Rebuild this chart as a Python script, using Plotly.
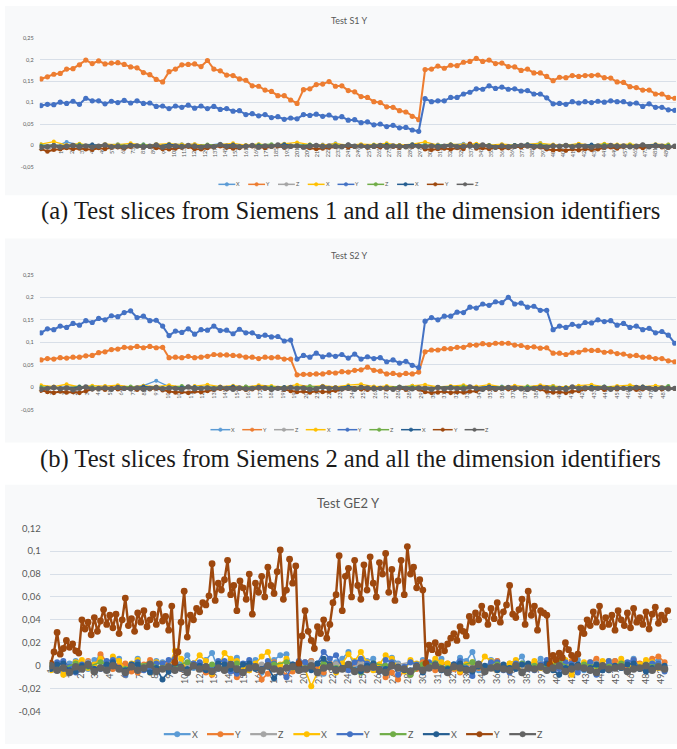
import plotly.graph_objects as go

W, H = 677, 749


def px(x):
    return x / W


def py(y):
    return 1 - y / H


SCALE = 0.001  # all series below are typed in thousandths

SERIES_NAMES = ["X", "Y", "Z", "X", "Y", "Z", "X", "Y", "Z"]
COLORS = ["#5B9BD5", "#ED7D31", "#A5A5A5", "#FFC000", "#4472C4",
          "#70AD47", "#255E91", "#9E480E", "#636363"]

# ---------------- Chart (a): Test S1 Y  (main series sampled every 5 slices) ----------
s1_y_orange = [155, 160, 166, 168, 178, 179, 188, 199, 191, 197,
               190, 192, 193, 189, 183, 181, 170, 165, 154, 148,
               172, 178, 188, 189, 190, 184, 198, 178, 174, 164,
               163, 155, 152, 139, 138, 129, 126, 116, 116, 106,
               98, 130, 132, 142, 143, 149, 138, 139, 128, 125,
               114, 112, 102, 100, 90, 89, 81, 78, 68, 60,
               177, 178, 185, 180, 187, 186, 194, 196, 203, 196,
               199, 191, 192, 184, 183, 175, 178, 169, 169, 161,
               151, 159, 158, 163, 161, 163, 163, 164, 158, 157,
               148, 147, 137, 135, 129, 129, 120, 120, 112, 110]
s1_y_blue = [93, 96, 95, 101, 98, 103, 96, 110, 104, 104,
             97, 103, 100, 105, 99, 104, 98, 99, 91, 92,
             86, 92, 89, 94, 87, 92, 86, 91, 84, 86,
             80, 81, 72, 74, 69, 72, 65, 67, 61, 64,
             62, 72, 70, 73, 68, 71, 64, 67, 59, 60,
             53, 55, 48, 50, 44, 47, 41, 42, 36, 33,
             109, 102, 104, 104, 112, 112, 120, 124, 132, 131,
             139, 133, 136, 131, 132, 127, 128, 120, 120, 111,
             97, 98, 96, 102, 99, 102, 100, 103, 101, 104,
             102, 102, 97, 99, 91, 97, 89, 89, 83, 82]
# near-zero series (sampled every 10 slices)
s1_x_lblue = [2, -3, 8, 1, -2, 0, 3, -1, 2, -4, 1, 3, -2, 0, 4, -1, -3, 2, 1, -2, 3, 0, -1, 5, -2,
              1, -3, 2, 0, -1, 3, -2, 1, 4, -1, 0, 2, -3, 1, 6, -2, 0, 3, -1, 2, -2, 1, 0, -3, 2]
s1_z_grey = [-1, 2, -2, 0, 3, -1, 1, -3, 2, 0, -2, 1, 3, -1, 0, 2, -2, 1, -1, 3, 0, -2, 2, -1, 1,
             0, -3, 2, 1, -1, 0, 2, -2, 1, 3, -1, 0, -2, 2, 1, -1, 0, 3, -2, 1, 0, -1, 2, -2, 1]
s1_x_yellow = [3, 9, 1, 4, -1, 3, 2, 5, 1, 3, 4, 2, 3, 0, 2, 5, 1, 3, 1, 4, 7, 2, 1, 4, 1,
               3, 2, 5, 1, 3, 8, 1, 3, 2, 4, 1, 3, 1, 3, 5, 2, 1, 4, 1, 4, 2, 3, 1, 3, 2]
s1_z_green = [0, 1, -1, 2, 0, -2, 1, 0, 2, -1, 1, 0, -1, 2, 1, -2, 0, 1, 3, -1, 0, 2, -1, 1, 0,
              -2, 1, 2, 0, -1, 1, 0, 2, -1, 0, 1, -2, 1, 0, 2, -1, 1, 0, -1, 2, 0, 1, -1, 0, 1]
s1_x_dblue = [-2, 1, -3, 0, 2, -1, -4, 1, 0, -2, 3, -1, 0, -3, 1, 2, -2, 0, -1, 3, -2, 1, 0, -3, 2,
              -1, 0, 1, -2, 3, -1, 0, 2, -3, 1, 0, -2, 1, 3, -1, 0, -2, 1, 2, -1, 0, -3, 1, 2, -1]
# sampled every 5 slices
s1_y_brown = [-8, -14, -10, -9, -6, -8, -7, -9, -10, -6, -8, -5, -4, -7, -3, -2, -4, -3, -6, -8,
              -9, -7, -5, -3, -8, -9, -6, -4, -2, -5, -7, -6, -3, -2, -4, -6, -3, -2, -5, -3,
              -2, -4, -6, -8, -7, -5, -3, -2, -4, -3, -2, -5, -3, -4, -2, -3, -5, -2, -3, -1,
              -9, -10, -8, -7, -9, -6, -8, 4, -7, -6, -8, -5, -7, -6, -3, -4, -2, -5, -4, -9,
              -11, -10, -12, -9, -11, -8, -10, -9, -5, -4, -7, -3, -2, -4, -6, -3, -2, -4, -5, -3]
s1_z_dgrey = [-5, -3, -1, -4, -2, 0, -3, -1, -4, -2, 1, -3, -2, -4, 0, -1, -3, -2, 1, -4,
              -2, -1, -3, 0, -2, -4, -1, -3, 2, -2, -1, -3, -2, 0, -4, -1, -2, 1, -3, -2,
              -1, -4, -2, 0, -3, -1, -2, -3, 1, -2, -1, -3, -2, 0, -4, -1, -2, -3, -1, -2,
              -3, -1, -4, -2, 0, -3, -2, -1, -3, 1, -2, -4, -1, -3, -2, 0, -1, -3, -2, -4,
              -1, -2, 0, -3, -1, -2, -4, -1, -3, 0, -2, -1, -3, -2, 1, -3, -1, -2, -4, -2]

# ---------------- Chart (b): Test S2 Y ----------------
s2_y_orange = [61, 64, 63, 66, 65, 67, 67, 70, 71, 77,
               79, 84, 85, 89, 88, 91, 88, 91, 88, 89,
               66, 67, 66, 69, 66, 67, 69, 73, 72, 72,
               71, 70, 67, 67, 64, 67, 66, 67, 63, 63,
               28, 29, 29, 30, 30, 33, 32, 35, 34, 38,
               39, 45, 38, 36, 30, 31, 28, 31, 30, 34,
               79, 83, 83, 86, 86, 89, 89, 94, 94, 97,
               95, 98, 98, 98, 94, 93, 89, 90, 87, 88,
               76, 76, 73, 77, 78, 83, 82, 82, 78, 79,
               75, 74, 70, 71, 67, 67, 64, 64, 59, 57]
s2_y_blue = [121, 130, 128, 136, 133, 142, 138, 148, 144, 153,
             150, 159, 157, 166, 170, 155, 158, 148, 149, 136,
             115, 125, 122, 130, 118, 128, 127, 136, 126, 127,
             119, 129, 121, 121, 113, 116, 112, 113, 103, 105,
             63, 71, 67, 76, 68, 72, 69, 73, 65, 74,
             63, 68, 64, 66, 57, 61, 54, 58, 49, 44,
             147, 155, 150, 158, 158, 167, 166, 178, 176, 185,
             182, 190, 188, 200, 185, 187, 178, 180, 171, 171,
             128, 136, 133, 140, 136, 144, 143, 150, 146, 148,
             138, 142, 133, 136, 128, 131, 121, 124, 116, 98]
s2_x_lblue = [1, -2, 3, 0, -1, 2, -3, 1, 4, 15, 2, -1, 0, 3, -2, 1, -1, 2, 0, -3, 1, 3, -1, 0, 2,
              -2, 1, 0, -1, 4, -2, 1, 0, 3, -1, -2, 2, 1, -1, 0, 3, -2, 1, 0, 2, -1, 1, -2, 0, 2]
s2_z_grey = [0, -2, 1, 2, -1, 0, 3, -2, 1, -1, 0, 2, -1, 1, -3, 0, 2, -1, 1, 0, -2, 2, 0, -1, 1,
             3, -2, 0, 1, -1, 2, 0, -2, 1, -1, 3, 0, -1, 2, -2, 1, 0, -1, 2, 0, -3, 1, 2, -1, 0]
s2_x_yellow = [5, 2, 7, 1, 4, 3, 5, 1, 4, 2, 5, 1, 3, 6, 2, 4, 1, 5, 3, 1, 6, 2, 4, 1, 5,
               7, 2, 3, 1, 4, 6, 1, 3, 5, 2, 6, 1, 4, 2, 5, 3, 1, 4, 6, 1, 3, 5, 2, 4, 1]
s2_z_green = [1, 0, -1, 2, 1, -1, 0, 2, -1, 1, 0, 3, -1, 0, 1, -2, 2, 0, 1, -1, 0, 2, 1, -1, 0,
              1, -2, 0, 2, 1, -1, 0, 1, 2, -1, 0, 1, -1, 2, 0, 1, -2, 0, 1, 2, -1, 0, 1, -1, 3]
s2_x_dblue = [-3, 0, -2, 1, -4, -1, 0, -2, 2, -1, -3, 0, 1, -2, -1, 2, -3, 0, -1, 1, -2, -4, 0, -1, 2,
              -2, 0, -3, 1, -1, -2, 0, 1, -3, -1, 2, 0, -2, -1, 1, -3, 0, -2, 1, 0, -1, -3, 2, -1, 0]
s2_y_brown = [-7, -10, -12, -9, -11, -10, -12, -8, -4, -3, -5, -2, -4, -3, -2, -5, -3, -4, -2, -6,
              -9, -11, -10, -12, -9, -10, -8, -5, -3, -4, -2, -3, -5, -4, -2, -3, -4, -2, -5, -8,
              -10, -9, -11, -8, -10, -9, -7, -4, -3, -2, -4, -5, -3, -2, -4, -3, -2, -5, -3, -4,
              -10, -12, -11, -9, -12, -10, -11, -9, -8, -4, -3, -5, -2, -4, -3, -2, -5, -3, -4, -9,
              -11, -10, -12, -9, -8, -4, -3, -2, -5, -3, -4, -2, -3, -5, -4, -2, -3, -4, -2, -3]
s2_z_dgrey = [-4, -2, 0, -3, -1, -5, -2, 1, -3, -2, -1, -4, 0, -2, -3, -1, -4, -2, 0, -3,
              -1, -2, -4, 1, -3, -2, -1, -3, 0, -2, -4, -1, -3, -2, 0, -1, -4, -2, -3, 0,
              -2, -1, -4, -3, 1, -2, -1, -3, -2, -4, 0, -1, -3, -2, -1, -4, 0, -2, -3, -1,
              -2, -4, 0, -3, -1, -2, -3, 1, -2, -4, -1, -3, -2, 0, -1, -3, -4, -2, 0, -1,
              -3, -2, -4, 1, -2, -1, -3, -2, 0, -4, -1, -2, -3, 0, -1, -2, -4, -1, -3, -2]

# ---------------- Chart (c): Test GE2 Y  (brown sampled every 2.5 slices) ----------------
ge2_y_brown = [2, 12, 29, 10, 15, 22, 16, 19, 13, 11, 40, 32, 38, 27, 42, 30, 39, 49, 36, 44,
               33, 45, 28, 40, 59, 35, 41, 30, 46, 38, 48, 34, 40, 45, 36, 54, 39, 43, 31, 52,
               3, 12, 38, 65, 25, 44, 40, 50, 47, 55, 53, 61, 89, 57, 72, 66, 75, 92, 62, 70,
               48, 74, 68, 58, 80, 45, 72, 64, 78, 60, 86, 70, 63, 82, 101, 58, 66, 93, 72, 87,
               2, 26, 48, 30, 22, 15, 34, 28, 40, 24, 36, 55, 62, 96, 48, 78, 85, 60, 92, 70,
               58, 88, 66, 95, 72, 60, 90, 80, 98, 64, 84, 57, 74, 92, 62, 104, 80, 86, 68, 75,
               66, 2, 18, 14, 20, 11, 17, 13, 19, 24, 28, 22, 34, 30, 26, 43, 38, 46, 40, 52,
               44, 36, 50, 41, 55, 38, 47, 53, 70, 45, 42, 49, 58, 36, 65, 44, 52, 31, 48, 46,
               44, 1, 9, 5, 11, 7, 20, 14, 9, 6, 10, 33, 28, 40, 35, 47, 38, 52, 34, 42,
               36, 44, 31, 48, 40, 35, 46, 33, 50, 38, 42, 36, 47, 32, 45, 51, 37, 44, 40, 48]
ge2_x_lblue = [0, -3, -6, 2, 4, -1, -3, 5, 8, -2, 2, 6, -5, 1, 6, -3, -2, 4, 3, -1,
               -4, 2, 9, -2, 1, 5, 11, -3, -3, 4, 7, -1, 2, 5, -6, 0, 5, 9, 10, -2,
               -2, 3, 4, -5, -7, 2, 3, 6, 12, -1, -1, 4, 6, -2, -4, 7, 2, -3, -8, 1,
               5, -2, 3, 6, -3, 1, 7, 4, 12, -4, -2, 5, 4, -1, -5, 3, 8, -3, 1, 6,
               -3, 2, 6, -4, 2, 5, -4, 1, 5, -2, -1, 4, 3, -2, 6, 1, -2, 5, 4, -3]
ge2_y_orange = [-2, 1, 3, -4, -5, 2, 4, -1, 10, 3, -3, 1, 2, -5, -6, 1, 5, -2, -2, 3,
                3, -1, -4, 2, 1, -6, -8, 2, 2, -3, -10, -4, -4, 1, -12, -7, 3, -2, -9, -5,
                -2, 3, 4, -1, -6, 2, 1, -3, -3, 2, 5, -4, -2, 1, -10, -6, -12, -4, -8, -3,
                3, 1, -4, 2, 2, -3, -6, 1, 1, -2, -3, 2, 4, -1, -2, 3, -5, -3, 2, 1,
                -3, 2, 1, -4, 4, -2, -2, 3, 6, -1, -1, 4, 3, -2, 5, 2, -2, 6, 8, 3]
ge2_z_grey = [-3, 2, -1, 3, -2, 1, -4, 2, 0, -3, 1, 2, -2, 0, 3, -1, -3, 1, 2, -2, 0, 3, -1, 1, -3,
              2, 0, -2, 1, 3, -1, 0, -2, 2, 1, -3, 0, 2, -1, 1, -2, 3, 0, -1, 2, -2, 1, 0, -3, 2]
ge2_x_yellow = [-4, 2, -8, -2, 3, 5, -2, 1, 6, -3, 8, 4, -3, 2, 5, -2, -6, 3, 2, -1,
                13, 6, -5, 2, 9, 4, -7, -2, 11, 6, 4, -1, -4, 2, 8, 12, -3, 1, 6, -2,
                2, -3, -18, -6, 5, 1, -6, 2, 10, 4, 12, 3, -4, 1, 9, 6, -2, -5, 5, 2,
                -3, 1, 6, 3, 2, -2, -5, 1, 3, -1, 8, 4, -4, -2, 2, 5, -6, 1, 4, -2,
                -3, 1, 2, 5, -8, -3, 3, 1, -2, 4, 4, -1, 6, 2, -3, 1, 5, 3, -2, -4]
ge2_y_blue = [-2, 3, 4, -1, -6, 1, 2, -3, -3, 4, 5, -2, -8, 1, 3, -4, -4, 2, 2, 5,
              6, -3, -5, 2, 3, -1, -2, 4, 4, -5, -7, 2, 5, -1, -3, 4, 2, -6, -10, 1,
              4, 3, -3, 2, 12, 6, 9, -2, -4, 3, 6, 2, -2, -5, 5, 3, -8, -1, 3, 1,
              -5, 3, 2, -4, -3, 1, 4, -2, -9, 2, -2, 3, 3, -4, -6, 2, 2, -3, -4, 1,
              5, -2, -3, 3, 2, -6, -1, 3, -8, -4, 4, -1, -2, 3, 5, -2, -4, 2, 2, -5]
ge2_z_green = [1, -2, 2, -1, 3, 0, -3, 1, 2, -2, 0, 3, -1, 1, -2, 2, 0, -4, 1, 3, -1, 0, 2, -2, 1,
               -6, 2, 0, -1, -8, 1, 2, -2, 0, 3, -1, 1, -2, 2, 0, -1, 3, -2, 1, 0, -1, 2, -3, 1, 0]
ge2_x_dblue = [-3, 1, 2, -4, -5, 0, 0, -3, -2, 1, 3, -2, -4, 1, 1, -3, -6, -2, -12, -5,
               2, -1, -3, 0, 0, -4, -5, 2, 1, -3, -4, 1, 2, -3, -3, -1, -11, -4, -2, 1,
               0, -3, -4, 2, 6, 1, -3, -2, 1, -4, -5, 0, 2, -3, -3, 1, -1, -4, -4, 0,
               -6, -2, 1, -4, -3, 1, 2, -3, -5, -1, 0, -2, -4, 1, -2, -3, 1, 2, -3, 0,
               2, -4, -8, -2, 0, 1, -3, -2, 1, -4, -4, 0, -2, 1, 2, -3, -5, -2, -1, 0]
ge2_z_dgrey = [0, -4, -2, -6, -1, -3, 1, -5, -2, -4, 0, -3, -6, -1, -4, -2, 1, -5, -3, -1,
               -4, -2, -6, 0, -3, -1, -5, -2, -4, 1, -3, -6, -2, -1, -4, 0, -3, -5, -2, -1,
               -4, -3, 0, -6, -2, -1, -4, -3, 1, -5, -2, -3, -1, -4, -6, 0, -2, -3, -5, -1,
               -4, -2, 0, -3, -6, -1, -2, -4, -3, 1, -5, -2, -1, -3, -4, 0, -6, -2, -3, -1,
               -4, -2, 0, -5, -3, -1, -2, -4, -6, 0, -3, -2, -1, -5, -3, -2, 0, -4, -1, -3]

# category tick labels (slice numbers)
s1_ticks = list(range(1, 498, 8))
s2_ticks = list(range(1, 497, 9))
ge2_ticks = list(range(1, 494, 12))

# series order per chart: index 0..8 -> X,Y,Z,X,Y,Z,X,Y,Z
charts = [
    dict(series=[s1_x_lblue, s1_y_orange, s1_z_grey, s1_x_yellow, s1_y_blue,
                 s1_z_green, s1_x_dblue, s1_y_brown, s1_z_dgrey],
         main={1, 4}),
    dict(series=[s2_x_lblue, s2_y_orange, s2_z_grey, s2_x_yellow, s2_y_blue,
                 s2_z_green, s2_x_dblue, s2_y_brown, s2_z_dgrey],
         main={1, 4}),
    dict(series=[ge2_x_lblue, ge2_y_orange, ge2_z_grey, ge2_x_yellow, ge2_y_blue,
                 ge2_z_green, ge2_x_dblue, ge2_y_brown, ge2_z_dgrey],
         main={7}),
]

fig = go.Figure()

axis_ids = ["", "2", "3"]
for ci, ch in enumerate(charts):
    aid = axis_ids[ci]
    big = ci == 2
    for si, vals in enumerate(ch["series"]):
        step = 500 / len(vals)
        xs = [1 + step * i for i in range(len(vals))]
        ys = [v * SCALE for v in vals]
        is_main = si in ch["main"]
        if big:
            if is_main:
                msize, lw = 6.8, 2.4
            elif si == 8:
                msize, lw = 7.5, 3.4
            else:
                msize, lw = 6, 1.6
        else:
            if is_main:
                msize, lw = 5.2, 2.0
            elif si == 8:
                msize, lw = 5.4, 2.8
            elif si == 7:
                msize, lw = 4.6, 2.0
            else:
                msize, lw = 4.0, 1.3
        fig.add_trace(go.Scatter(
            x=xs, y=ys, mode="lines+markers", name=SERIES_NAMES[si],
            line=dict(color=COLORS[si], width=lw),
            marker=dict(color=COLORS[si], size=msize),
            xaxis="x" + aid, yaxis="y" + aid, showlegend=False))

GRID = "#d8dfe8"
TXT = "#595959"
FONT = "Lato"

# axis geometry (pixels in the 677x749 page)
specs = [
    dict(x0=35, x1=676, ytop=32.7, ybot=163.3, yzero=141.7, rng=[-0.05, 0.25],
         tv=[-0.05, 0, 0.05, 0.1, 0.15, 0.2, 0.25],
         tt=["-0,05", "0", "0,05", "0,1", "0,15", "0,2", "0,25"],
         xr=[0, 497], ticks=s1_ticks, fs=5.5, yfs=5.5),
    dict(x0=35, x1=676, ytop=272.7, ybot=410, yzero=386.7, rng=[-0.05, 0.25],
         tv=[-0.05, 0, 0.05, 0.1, 0.15, 0.2, 0.25],
         tt=["-0,05", "0", "0,05", "0,1", "0,15", "0,2", "0,25"],
         xr=[0, 497], ticks=s2_ticks, fs=5.5, yfs=5.5),
    dict(x0=45, x1=672, ytop=530, ybot=716, yzero=669.3, rng=[-0.04, 0.12],
         tv=[-0.04, -0.02, 0, 0.02, 0.04, 0.06, 0.08, 0.1, 0.12],
         tt=["-0,04", "-0,02", "0", "0,02", "0,04", "0,06", "0,08", "0,1", "0,12"],
         xr=[0, 502], ticks=ge2_ticks, fs=9, yfs=9.5),
]

layout_axes = {}
for ci, sp in enumerate(specs):
    aid = axis_ids[ci]
    xname = "xaxis" + aid
    yname = "yaxis" + aid
    layout_axes[xname] = dict(
        domain=[px(sp["x0"]), px(sp["x1"])], range=sp["xr"],
        anchor="free", position=py(sp["yzero"]),
        tickmode="array", tickvals=sp["ticks"], ticktext=[str(t) for t in sp["ticks"]],
        tickangle=-90, tickfont=dict(size=sp["fs"], color=TXT, family=FONT),
        showgrid=False, zeroline=False, showline=False, ticks="",
        layer="below traces", fixedrange=True)
    layout_axes[yname] = dict(
        domain=[py(sp["ybot"]), py(sp["ytop"])], range=sp["rng"],
        anchor="x" + aid, tickmode="array", tickvals=sp["tv"], ticktext=sp["tt"],
        tickfont=dict(size=sp["yfs"], color=TXT, family=FONT),
        showgrid=True, gridcolor=GRID, gridwidth=1, zeroline=False,
        showline=False, ticks="", ticklabelstandoff=5 if ci < 2 else 8,
        layer="below traces", fixedrange=True)

shapes = []
# chart panels
for (top, bot) in [(0, 192), (236, 443), (486, 749)]:
    shapes.append(dict(type="rect", xref="paper", yref="paper", x0=0, x1=1,
                       y0=py(bot), y1=py(top), fillcolor="#f8f9fa",
                       line=dict(width=0), layer="below"))

annotations = []
# titles
for text, x, y, s in [("Test S1 Y", 347, 15, 9), ("Test S2 Y", 347, 253, 9),
                      ("Test GE2 Y", 346, 504, 13)]:
    annotations.append(dict(text=text, x=px(x), y=py(y), xref="paper", yref="paper",
                            showarrow=False, xanchor="center", yanchor="middle",
                            font=dict(size=s, color=TXT, family=FONT)))
# captions
for text, y in [("(a) Test slices from Siemens 1 and all the dimension identifiers", 208),
                ("(b) Test slices from Siemens 2 and all the dimension identifiers", 460)]:
    annotations.append(dict(text=text, x=px(348), y=py(y), xref="paper", yref="paper",
                            showarrow=False, xanchor="center", yanchor="middle",
                            font=dict(size=24.6, color="#1a1a1a", family="Liberation Serif")))

# legends (one per chart)
for (ly, lx0, pitch, llen, r, fs, lw) in [(181, 215, 30, 17, 1.8, 5.5, 1.5),
                                          (430, 207, 32, 20, 1.8, 5.5, 1.5),
                                          (739, 160, 43.5, 27, 2.8, 9, 2.2)]:
    for i, (name, col) in enumerate(zip(SERIES_NAMES, COLORS)):
        xs = lx0 + i * pitch
        shapes.append(dict(type="line", xref="paper", yref="paper",
                           x0=px(xs), x1=px(xs + llen), y0=py(ly), y1=py(ly),
                           line=dict(color=col, width=lw)))
        cx = xs + llen / 2
        shapes.append(dict(type="circle", xref="paper", yref="paper",
                           x0=px(cx - r), x1=px(cx + r), y0=py(ly + r), y1=py(ly - r),
                           fillcolor=col, line=dict(color=col, width=0.5)))
        annotations.append(dict(text=name, x=px(xs + llen), y=py(ly), xref="paper",
                                yref="paper", showarrow=False, xanchor="left",
                                yanchor="middle", borderpad=0,
                                font=dict(size=fs, color=TXT, family=FONT)))

fig.update_layout(
    width=W, height=H, margin=dict(l=0, r=0, t=0, b=0),
    paper_bgcolor="white", plot_bgcolor="rgba(0,0,0,0)",
    showlegend=False, shapes=shapes, annotations=annotations,
    font=dict(family=FONT, color=TXT),
    **layout_axes)

# remove the browser's default 8px page margin so the figure sits at (0, 0)
fig.write_html("out.html",
               config={"displayModeBar": False, "staticPlot": True},
               post_script="document.body.style.margin='0';"
                           "document.body.style.overflow='hidden';")
